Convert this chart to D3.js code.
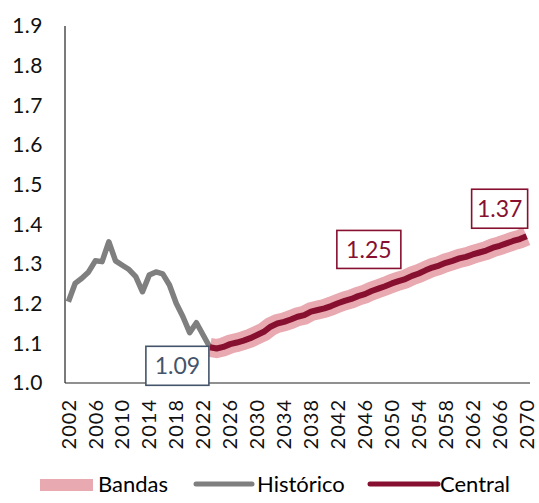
<!DOCTYPE html>
<html>
<head>
<meta charset="utf-8">
<script src="https://cdn.jsdelivr.net/npm/d3@7"></script>
<style>
  body { margin: 0; background: #fff; }
  text { font-family: Lato, "Noto Sans", sans-serif; }
</style>
</head>
<body>
<svg id="chart" width="539" height="503"></svg>
<script>
// years on the category axis
var years = d3.range(2002, 2071)
var tickYears = d3.range(2002, 2071, 4)
var yTicks = [1.0, 1.1, 1.2, 1.3, 1.4, 1.5, 1.6, 1.7, 1.8, 1.9]

// historical series 2002-2023
var histYears = d3.range(2002, 2024)
var histValues = [1.205, 1.251, 1.264, 1.280, 1.308, 1.306, 1.356, 1.308, 1.297, 1.286,
                  1.268, 1.230, 1.272, 1.280, 1.275, 1.247, 1.201, 1.167, 1.127, 1.152,
                  1.121, 1.09]

// central projection 2023-2070
var projYears = d3.range(2023, 2071)
var centralValues = [1.09, 1.087, 1.091, 1.098, 1.102, 1.107, 1.113, 1.121, 1.129, 1.142,
                     1.150, 1.154, 1.160, 1.167, 1.171, 1.180, 1.184, 1.188, 1.194, 1.201,
                     1.207, 1.212, 1.219, 1.224, 1.232, 1.238, 1.244, 1.251, 1.257, 1.262,
                     1.270, 1.276, 1.284, 1.291, 1.296, 1.303, 1.308, 1.314, 1.318, 1.324,
                     1.329, 1.334, 1.341, 1.346, 1.352, 1.358, 1.363, 1.37]

// labelled points
var labelYears = [2023, 2050, 2070]
var labelTexts = ['1.09', '1.25', '1.37']

var gray = '#7f7f7f', wine = '#870f30', pink = '#e9a9b0', slate = '#44546a'

var svg = d3.select('#chart')

var x = d3.scaleBand()
          .domain(years)
          .range([65, 530])
var y = d3.scaleLinear()
          .domain([1.0, 1.9])
          .range([383, 26])

function px(yr){ return x(yr) + x.bandwidth()/2 }

// axes lines
svg.append('line')
   .attr('x1', 65).attr('x2', 65)
   .attr('y1', y(1.9)).attr('y2', y(1.0))
   .style('stroke', '#222').style('stroke-width', 1.2)
svg.append('line')
   .attr('x1', 65).attr('x2', 530)
   .attr('y1', y(1.0)).attr('y2', y(1.0))
   .style('stroke', '#222').style('stroke-width', 1.2)

// y labels
svg.append('g').selectAll('text')
   .data(yTicks)
   .enter().append('text')
   .attr('x', 43)
   .attr('y', function(d){ return y(d) })
   .attr('dy', '0.35em')
   .attr('text-anchor', 'end')
   .style('font-size', '21px')
   .style('letter-spacing', '0.5px')
   .style('fill', '#111')
   .text(function(d){ return d3.format('.1f')(d) })

// x labels
svg.append('g').selectAll('text')
   .data(tickYears)
   .enter().append('text')
   .attr('transform', function(d){ return 'translate(' + px(d) + ',399) rotate(-90)' })
   .attr('dy', '0.36em')
   .attr('text-anchor', 'end')
   .style('font-size', '20px')
   .style('letter-spacing', '1px')
   .style('fill', '#111')
   .text(function(d){ return d })

var histData = histYears.map(function(d, i){ return {year: d, v: histValues[i]} })
var projData = projYears.map(function(d, i){ return {year: d, v: centralValues[i]} })

var line = d3.line()
             .x(function(d){ return px(d.year) })
             .y(function(d){ return y(d.v) })

// band
svg.append('path')
   .datum(projData)
   .attr('d', line)
   .style('fill', 'none')
   .style('stroke', pink)
   .style('stroke-width', 19)

// historical
svg.append('path')
   .datum(histData)
   .attr('d', line)
   .style('fill', 'none')
   .style('stroke', gray)
   .style('stroke-width', 5.5)
   .style('stroke-linejoin', 'round')

// central
svg.append('path')
   .datum(projData)
   .attr('d', line)
   .style('fill', 'none')
   .style('stroke', wine)
   .style('stroke-width', 6)
   .style('stroke-linejoin', 'round')

// label boxes: offsets of the box from its point
var boxStyle = [
  {dx: -64, dy: -1, w: 63, h: 39, color: slate},
  {dx: -55, dy: -53, w: 64, h: 38, color: wine},
  {dx: -55, dy: -47, w: 56, h: 39, color: wine}
]
labelYears.forEach(function(yr, i){
  var v = yr <= 2023 ? histValues[histYears.indexOf(yr)] : centralValues[projYears.indexOf(yr)]
  var s = boxStyle[i]
  var bx = px(yr) + s.dx, by = y(v) + s.dy
  var g = svg.append('g')
  g.append('rect')
   .attr('x', bx).attr('y', by)
   .attr('width', s.w).attr('height', s.h)
   .style('fill', '#fff')
   .style('stroke', s.color)
   .style('stroke-width', 1.6)
  g.append('text')
   .attr('x', bx + s.w/2)
   .attr('y', by + s.h/2)
   .attr('dy', '0.36em')
   .attr('text-anchor', 'middle')
   .style('font-size', '23px')
   .style('fill', s.color)
   .text(labelTexts[i])
})

// legend
var leg = svg.append('g')
leg.append('rect')
   .attr('x', 40).attr('y', 479).attr('width', 53).attr('height', 12)
   .style('fill', pink)
leg.append('text').attr('x', 98).attr('y', 492).style('font-size', '22px').text('Bandas')
leg.append('line')
   .attr('x1', 196).attr('x2', 252).attr('y1', 484).attr('y2', 484)
   .style('stroke', gray).style('stroke-width', 5).style('stroke-linecap', 'round')
leg.append('text').attr('x', 257).attr('y', 492).style('font-size', '22px').text('Histórico')
leg.append('line')
   .attr('x1', 370).attr('x2', 438).attr('y1', 484).attr('y2', 484)
   .style('stroke', wine).style('stroke-width', 5).style('stroke-linecap', 'round')
leg.append('text').attr('x', 440).attr('y', 492).style('font-size', '22px').text('Central')
</script>
</body>
</html>
